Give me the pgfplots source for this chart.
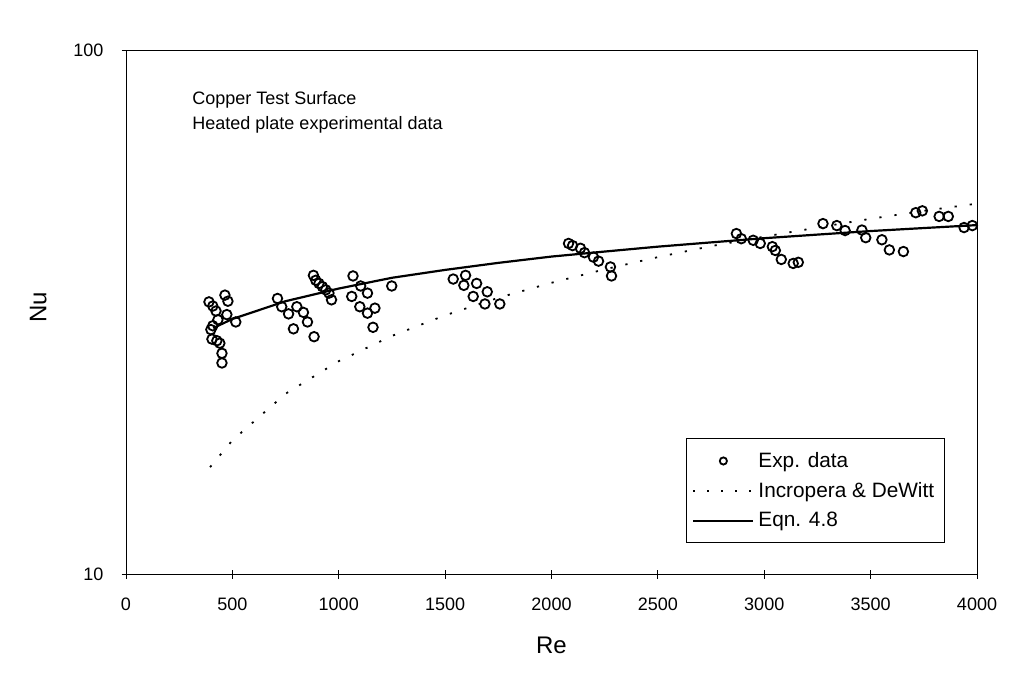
\documentclass[border=0pt]{standalone}
\usepackage{pgfplots}
\pgfplotsset{compat=1.18}
\usepackage{fontspec}
\setmainfont{Liberation Sans}

\pgfplotstableread{
Re    Nu
390   33.1
408   32.5
423   31.8
465   34.1
479   33.2
432   30.6
474   31.3
516   30.3
399   29.3
408   29.8
404   28.1
427   27.9
441   27.6
451   26.4
451   25.3
712   33.6
732   32.4
764   31.4
803   32.4
834   31.6
853   30.3
787   29.4
884   28.4
881   37.2
892   36.4
907   35.9
923   35.4
939   34.9
954   34.4
966   33.4
1067  37.1
1103  35.5
1135  34.4
1061  33.9
1099  32.4
1170  32.2
1135  31.5
1161  29.6
1249  35.5
1538  36.6
1596  37.2
1588  35.6
1648  35.9
1698  34.6
1632  33.9
1687  32.8
1757  32.8
2080  42.8
2099  42.4
2136  41.9
2155  41.1
2197  40.3
2221  39.6
2277  38.6
2282  37.1
2869  44.7
2892  43.7
2948  43.4
2981  42.8
3038  42.2
3052  41.5
3080  39.9
3136  39.2
3160  39.4
3276  46.7
3341  46.3
3380  45.3
3459  45.4
3477  43.9
3553  43.5
3588  41.6
3654  41.3
3712  49.0
3743  49.4
3822  48.2
3865  48.2
3939  45.9
3978  46.3
}\expdata

\begin{document}
\begin{tikzpicture}
\begin{axis}[
  name=ax,
  scale only axis,
  width=425.5pt, height=261.75pt,
  ymode=log,
  xmin=0, xmax=4000, ymin=10, ymax=100,
  xtick={0,500,...,4000},
  ytick={10,100}, yticklabels={10,100},
  yminorticks=false,
  xtick pos=bottom, ytick pos=left,
  scaled ticks=false,
  /pgf/number format/1000 sep={},
  /pgf/number format/assume math mode=true,
  tick align=center,
  major tick length=4.5pt,
  axis line style={line width=0.5pt},
  every tick/.style={black, line width=0.5pt},
  tick label style={font=\fontsize{9}{11}\selectfont},
  xticklabel style={yshift=-6pt},
  yticklabel style={xshift=-5.5pt},
  xlabel={Re}, ylabel={Nu},
  label style={font=\fontsize{12}{14}\selectfont},
  xlabel style={at={(axis description cs:0.5,-0.136)}, anchor=center},
  ylabel style={at={(axis description cs:-0.103,0.51)}, anchor=center, rotate=0},
  clip=false,
  legend cell align=left,
  legend style={at={(rel axis cs:0.962,0.059)}, anchor=south east,
    font=\fontsize{10.4}{12}\selectfont, draw=black, line width=0.5pt,
    inner xsep=3pt, inner ysep=4.5pt, row sep=2pt},
]
\addplot[only marks, mark=o, mark size=2.4pt, mark options={line width=0.9pt},
  legend image code/.code={\draw[line width=0.9pt] (15pt,0pt) circle (1.8pt);
    \path[draw=none] (0pt,0pt) -- (30pt,0pt);}]
  table[x=Re, y=Nu] {\expdata};
\addlegendentry{Exp. data}

\addplot[black, line width=0.9pt, dash pattern=on 1.1pt off 6.5pt,
  legend image code/.code={\draw[line width=0.9pt, dash pattern=on 1pt off 6pt] (0pt,0pt) -- (30pt,0pt);}]
  coordinates {
  (395,16.0) (500,18.0) (750,22.1) (1000,25.5) (1250,28.5) (1500,31.2)
  (1750,33.7) (2000,36.0) (2250,38.2) (2500,40.3) (2750,42.3) (3000,44.1)
  (3250,45.9) (3500,47.7) (3750,49.4) (4000,51.0)
};
\addlegendentry{Incropera \& DeWitt}

\addplot[black, line width=1.1pt,
  legend image code/.code={\draw[line width=1.1pt] (0pt,0pt) -- (30pt,0pt);}]
  coordinates {
  (410,29.5) (500,30.7) (750,33.2) (1000,35.1) (1250,36.8) (1500,38.1)
  (1750,39.3) (2000,40.4) (2250,41.3) (2500,42.2) (2750,43.0) (3000,43.8)
  (3250,44.5) (3500,45.2) (3750,45.8) (4000,46.4)
};
\addlegendentry{Eqn. 4.8}

\node[anchor=west, inner sep=0pt, font=\fontsize{9}{11}\selectfont] at (rel axis cs:0.0776,0.905) {Copper Test Surface};
\node[anchor=west, inner sep=0pt, font=\fontsize{9}{11}\selectfont] at (rel axis cs:0.0776,0.858) {Heated plate experimental data};
\end{axis}
\path ([shift={(-63pt,-56pt)}]ax.south west) rectangle ([shift={(20pt,25.25pt)}]ax.north east);
\end{tikzpicture}
\end{document}
